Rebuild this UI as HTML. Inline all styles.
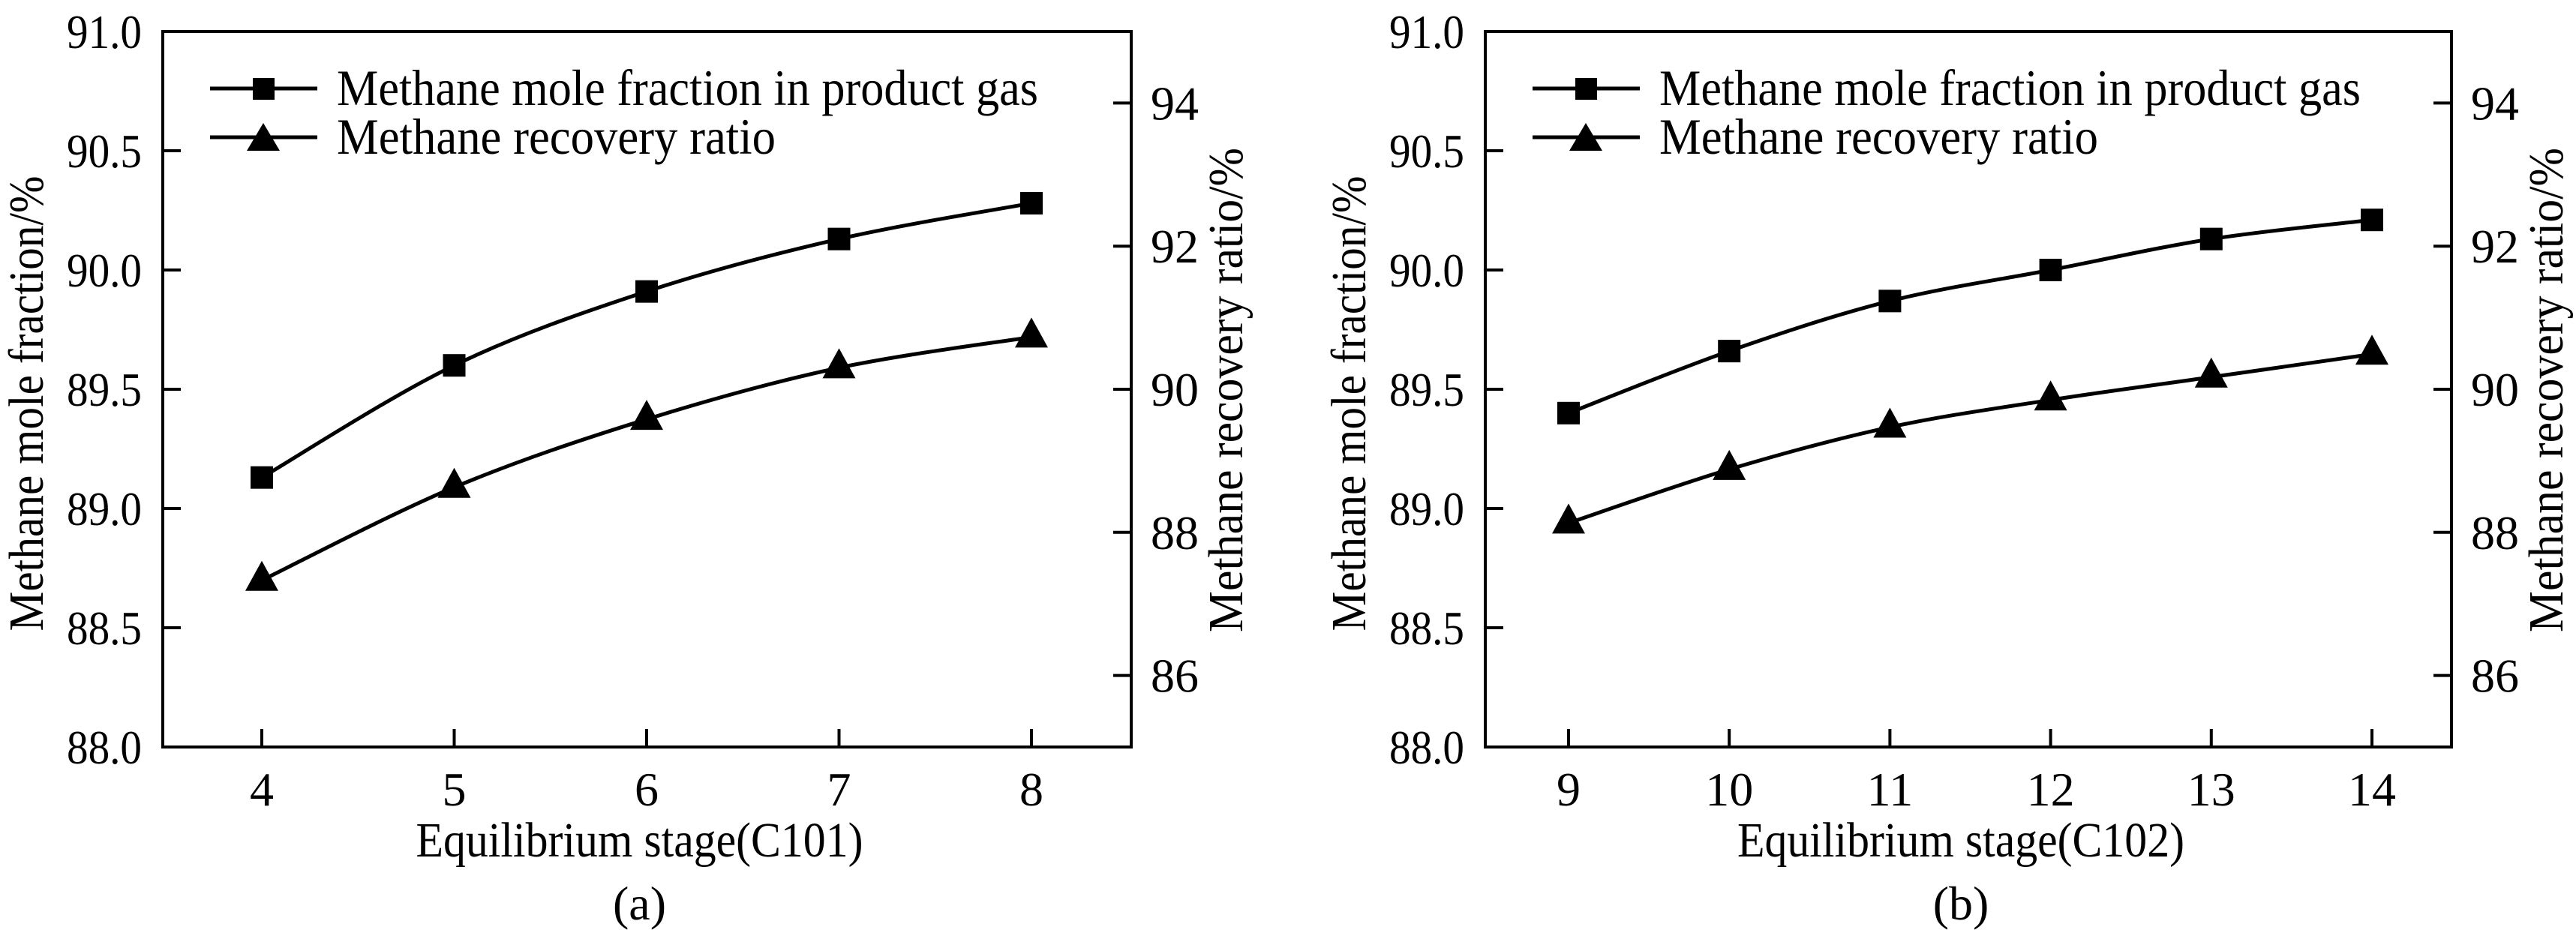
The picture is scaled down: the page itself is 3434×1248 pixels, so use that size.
<!DOCTYPE html>
<html><head><meta charset="utf-8"><style>
html,body{margin:0;padding:0;background:#fff;}
svg{display:block;font-family:"Liberation Serif","Times New Roman",serif;}
</style></head><body>
<svg id="fig" width="3434" height="1248" viewBox="0 0 3434 1248" xmlns="http://www.w3.org/2000/svg"></svg>
<script>
// Panel (a) data
const stagesA = [4, 5, 6, 7, 8];
const moleFracA = [89.13, 89.60, 89.91, 90.13, 90.28];
const recoveryA = [87.33, 88.63, 89.58, 90.30, 90.73];
// Panel (b) data
const stagesB = [9, 10, 11, 12, 13, 14];
const moleFracB = [89.40, 89.66, 89.87, 90.00, 90.13, 90.21];
const recoveryB = [88.13, 88.88, 89.47, 89.85, 90.17, 90.49];
// tick labels
const leftTicks = [88.0, 88.5, 89.0, 89.5, 90.0, 90.5, 91.0];
const rightTicks = [86, 88, 90, 92, 94];

const NS = "http://www.w3.org/2000/svg";
const svg = document.getElementById('fig');
function mk(tag, attrs, parent) {
  const e = document.createElementNS(NS, tag);
  for (const k in attrs) e.setAttribute(k, attrs[k]);
  (parent || svg).appendChild(e);
  return e;
}
function smoothPath(pts) {
  let d = `M${pts[0][0]},${pts[0][1]}`;
  for (let i = 0; i < pts.length - 1; i++) {
    const p0 = pts[Math.max(0, i - 1)], p1 = pts[i], p2 = pts[i + 1], p3 = pts[Math.min(pts.length - 1, i + 2)];
    const t = 0.5 / 3;
    const c1 = [p1[0] + (p2[0] - p0[0]) * t, p1[1] + (p2[1] - p0[1]) * t];
    const c2 = [p2[0] - (p3[0] - p1[0]) * t, p2[1] - (p3[1] - p1[1]) * t];
    d += ` C${c1[0]},${c1[1]} ${c2[0]},${c2[1]} ${p2[0]},${p2[1]}`;
  }
  return d;
}

function panel(cfg) {
  const g = mk('g', {});
  
  
  const L = cfg.left, R = cfg.right, T = 42, B = 996;
  const xS = v => cfg.x0 + (v - cfg.stages[0]) * cfg.dx;
  const yL = v => B - (v - 88) * (B - T) / 3;
  const yR = v => B - (v - 85) * (B - T) / 10;

  const frame = mk('rect', {x: L, y: T, width: R - L, height: B - T, fill: 'none', stroke: '#000', 'stroke-width': 4}, g);
  
  

  leftTicks.forEach(v => {
    const y = yL(v);
    const t = mk('line', {x1: L, x2: L + 24, y1: y, y2: y, stroke: '#000', 'stroke-width': 4}, g);
    
    
    const lb = mk('text', {x: L - 28, y: y + 22, 'font-size': 64, 'text-anchor': 'end', textLength: 100, lengthAdjust: 'spacingAndGlyphs'}, g);
    
    
    lb.textContent = v.toFixed(1);
  });
  rightTicks.forEach(v => {
    const y = yR(v);
    const t = mk('line', {x1: R - 24, x2: R, y1: y, y2: y, stroke: '#000', 'stroke-width': 4}, g);
    
    
    const lb = mk('text', {x: R + 26, y: y + 22, 'font-size': 64}, g);
    
    
    lb.textContent = String(v);
  });
  cfg.stages.forEach(v => {
    const x = xS(v);
    const t = mk('line', {x1: x, x2: x, y1: B - 24, y2: B, stroke: '#000', 'stroke-width': 4}, g);
    
    
    const lb = mk('text', {x: x, y: 1074, 'font-size': 64, 'text-anchor': 'middle'}, g);
    
    
    lb.textContent = String(v);
  });

  const cx = (L + R) / 2;
  const xt = mk('text', {x: cx - 10, y: 1142, 'font-size': 66, 'text-anchor': 'middle', textLength: 596, lengthAdjust: 'spacingAndGlyphs'}, g);
  
  
  xt.textContent = cfg.xtitle;
  const cap = mk('text', {x: cx - 10, y: 1226, 'font-size': 64, 'text-anchor': 'middle'}, g);
  
  
  cap.textContent = cfg.caption;

  const ly = mk('text', {x: 0, y: 0, 'font-size': 66, 'text-anchor': 'middle', textLength: 607, lengthAdjust: 'spacingAndGlyphs', transform: `translate(${L - 160},538) rotate(-90)`}, g);
  
  
  ly.textContent = 'Methane mole fraction/%';
  const ry = mk('text', {x: 0, y: 0, 'font-size': 66, 'text-anchor': 'middle', textLength: 646, lengthAdjust: 'spacingAndGlyphs', transform: `translate(${R + 148},520) rotate(-90)`}, g);
  
  
  ry.textContent = 'Methane recovery ratio/%';

  // series
  const sq = cfg.stages.map((s, i) => [xS(s), yL(cfg.mole[i])]);
  const tr = cfg.stages.map((s, i) => [xS(s), yR(cfg.rec[i])]);
  const p1 = mk('path', {d: smoothPath(sq), fill: 'none', stroke: '#000', 'stroke-width': 5}, g);
  
  
  const p2 = mk('path', {d: smoothPath(tr), fill: 'none', stroke: '#000', 'stroke-width': 5}, g);
  
  
  sq.forEach(p => {
    const m = mk('rect', {x: p[0] - 15, y: p[1] - 15, width: 30, height: 30, fill: '#000'}, g);
    
    
  });
  tr.forEach(p => {
    const m = mk('polygon', {points: `${p[0]},${p[1] - 26} ${p[0] - 22},${p[1] + 14} ${p[0] + 22},${p[1] + 14}`, fill: '#000'}, g);
    
    
  });

  // legend
  const lg = mk('g', {}, g);
  
  
  const lx = L + 63;
  const e1 = mk('g', {}, lg);
  
  
  mk('line', {x1: lx, x2: lx + 143, y1: 118, y2: 118, stroke: '#000', 'stroke-width': 5}, e1);
  mk('rect', {x: lx + 57, y: 104, width: 29, height: 29, fill: '#000'}, e1);
  const t1 = mk('text', {x: lx + 169, y: 140, 'font-size': 68, textLength: 935, lengthAdjust: 'spacingAndGlyphs'}, e1);
  t1.textContent = 'Methane mole fraction in product gas';
  const e2 = mk('g', {}, lg);
  
  
  mk('line', {x1: lx, x2: lx + 143, y1: 183, y2: 183, stroke: '#000', 'stroke-width': 5}, e2);
  mk('polygon', {points: `${lx + 71},${164} ${lx + 49},${201} ${lx + 93},${201}`, fill: '#000'}, e2);
  const t2 = mk('text', {x: lx + 169, y: 205, 'font-size': 68, textLength: 585, lengthAdjust: 'spacingAndGlyphs'}, e2);
  t2.textContent = 'Methane recovery ratio';
}

panel({name: 'panel-a', left: 217, right: 1508, x0: 349, dx: 256.5, stages: stagesA, mole: moleFracA, rec: recoveryA, xtitle: 'Equilibrium stage(C101)', caption: '(a)'});
panel({name: 'panel-b', left: 1980, right: 3268, x0: 2091, dx: 214.2, stages: stagesB, mole: moleFracB, rec: recoveryB, xtitle: 'Equilibrium stage(C102)', caption: '(b)'});
</script>
</body></html>
